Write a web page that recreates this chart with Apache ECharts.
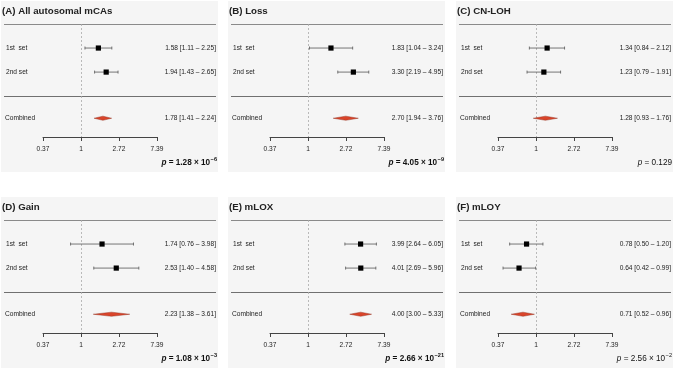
<!DOCTYPE html>
<html><head><meta charset="utf-8">
<script src="https://cdn.jsdelivr.net/npm/echarts@6/dist/echarts.min.js"></script>
<style>html,body{margin:0;padding:0;background:#fff}#c{width:675px;height:369px}</style>
</head><body><div id="c"></div>
<script>
// ---- data ----
const panelTitles = ['(A) All autosomal mCAs', '(B) Loss', '(C) CN-LOH', '(D) Gain', '(E) mLOX', '(F) mLOY'];
const rowLabels = ['1st  set', '2nd set', 'Combined'];
const estimates = [[1.58, 1.94, 1.78], [1.83, 3.30, 2.70], [1.34, 1.23, 1.28], [1.74, 2.53, 2.23], [3.99, 4.01, 4.00], [0.78, 0.64, 0.71]];
const lowers    = [[1.11, 1.43, 1.41], [1.04, 2.19, 1.94], [0.84, 0.79, 0.93], [0.76, 1.40, 1.38], [2.64, 2.69, 3.00], [0.50, 0.42, 0.52]];
const uppers    = [[2.25, 2.65, 2.24], [3.24, 4.95, 3.76], [2.12, 1.91, 1.76], [3.98, 4.58, 3.61], [6.05, 5.96, 5.33], [1.20, 0.99, 0.96]];
const pMantissa = ['1.28', '4.05', '0.129', '1.08', '2.66', '2.56'];
const pExponent = ['−6', '−9', null, '−3', '−21', '−2'];
const pSignificant = [true, true, false, true, true, false];
const tickLabels = ['0.37', '1', '2.72', '7.39'];

// ---- layout ----
const FONT = '"Liberation Sans", Arial, sans-serif';
const panelLeft = [1, 228, 456];
const panelTop = [1, 197];
const panelW = 217, panelH = 171;
const rowPos = [1, 2, 3.92];
const yMax = 4.7;

const chart = echarts.init(document.getElementById('c'), null, {renderer: 'canvas'});
const grids = [], xAxes = [], yAxes = [], series = [], titles = [], graphics = [];

for (let i = 0; i < 6; i++) {
  const col = i % 3, row = Math.floor(i / 3);
  const L = panelLeft[col], T = panelTop[row];
  const gTop = T + 23, gH = 113;
  grids.push({left: L + 42, top: gTop, width: 114, height: gH, containLabel: false});
  xAxes.push({
    type: 'log', logBase: Math.E, gridIndex: i, position: 'bottom',
    min: Math.exp(-1), max: Math.exp(2), interval: 1,
    axisLine: {show: true, onZero: false, lineStyle: {color: '#444', width: 1}},
    axisTick: {show: true, inside: false, length: 4, lineStyle: {color: '#444', width: 1}},
    splitLine: {show: false}, minorTick: {show: false},
    axisLabel: {
      show: true, margin: 9, fontSize: 6.6, fontFamily: FONT, color: '#222',
      formatter: v => tickLabels[Math.round(Math.log(v)) + 1] || ''
    }
  });
  yAxes.push({type: 'value', gridIndex: i, min: 0, max: yMax, inverse: true, show: false});

  // background
  graphics.push({type: 'rect', z: -10, shape: {x: L, y: T, width: panelW, height: panelH}, style: {fill: '#f5f5f5'}, silent: true});
  // title line and separator
  graphics.push({type: 'line', z: 1, shape: {x1: L + 3, y1: gTop + 0.5, x2: L + 215, y2: gTop + 0.5}, style: {stroke: '#8a8a8a', lineWidth: 1}, silent: true});
  const sepY = gTop + 3 * gH / yMax;
  graphics.push({type: 'line', z: 1, shape: {x1: L + 3, y1: Math.round(sepY) + 0.5, x2: L + 215, y2: Math.round(sepY) + 0.5}, style: {stroke: '#707070', lineWidth: 1}, silent: true});

  // p value
  const sig = pSignificant[i];
  const w = sig ? 'bold' : 'normal';
  let txt = '{pi|p}{n| = ' + pMantissa[i] + (pExponent[i] ? ' × 10}{sup|' + pExponent[i] + '}' : '}');
  graphics.push({
    type: 'text', z: 5, silent: true,
    style: {
      x: L + 216, y: T + 162, align: 'right', verticalAlign: 'middle',
      text: txt,
      rich: {
        pi: {fontSize: 8.2, fontStyle: 'italic', fontWeight: w, fontFamily: FONT, fill: '#111', lineHeight: 10},
        n: {fontSize: 8.2, fontWeight: w, fontFamily: FONT, fill: '#111', lineHeight: 10},
        sup: {fontSize: 5.6, fontWeight: w, fontFamily: FONT, fill: '#111', lineHeight: 10, padding: [0, 0, 7, 0.5]}
      }
    }
  });

  titles.push({
    text: panelTitles[i], left: L + 1, top: T + 5, padding: 0,
    textStyle: {fontSize: 9.7, fontWeight: 'bold', fontFamily: FONT, color: '#222'}
  });

  const data = [0, 1, 2].map(j => [estimates[i][j], lowers[i][j], uppers[i][j], rowPos[j], j]);
  series.push({
    type: 'custom', coordinateSystem: 'cartesian2d', xAxisIndex: i, yAxisIndex: i,
    clip: false, silent: true,
    encode: {x: [0, 1, 2], y: 3},
    data: data,
    renderItem: (params, api) => {
      const est = api.value(0), lo = api.value(1), hi = api.value(2), yv = api.value(3), j = api.value(4);
      const pE = api.coord([est, yv]), pL = api.coord([lo, yv]), pH = api.coord([hi, yv]);
      const y = pE[1];
      const ch = [];
      ch.push({type: 'text', style: {text: rowLabels[j], x: L + (j === 2 ? 4 : 5), y: y, align: 'left', verticalAlign: 'middle', fontSize: 6.6, fontFamily: FONT, fill: '#222'}});
      ch.push({type: 'text', style: {text: est.toFixed(2) + ' [' + lo.toFixed(2) + ' – ' + hi.toFixed(2) + ']', x: L + 215, y: y, align: 'right', verticalAlign: 'middle', fontSize: 6.6, fontFamily: FONT, fill: '#222'}});
      if (j < 2) {
        ch.push({type: 'line', shape: {x1: pL[0], y1: y, x2: pH[0], y2: y}, style: {stroke: '#555', lineWidth: 0.8}});
        ch.push({type: 'line', shape: {x1: pL[0], y1: y - 1.5, x2: pL[0], y2: y + 1.5}, style: {stroke: '#555', lineWidth: 0.8}});
        ch.push({type: 'line', shape: {x1: pH[0], y1: y - 1.5, x2: pH[0], y2: y + 1.5}, style: {stroke: '#555', lineWidth: 0.8}});
        ch.push({type: 'rect', shape: {x: pE[0] - 2.6, y: y - 2.6, width: 5.2, height: 5.2}, style: {fill: '#000'}});
      } else {
        ch.push({type: 'polygon', shape: {points: [[pL[0], y], [pE[0], y - 2.1], [pH[0], y], [pE[0], y + 2.1]]}, style: {fill: '#d9442a', stroke: '#8a2412', lineWidth: 0.4}});
      }
      return {type: 'group', children: ch};
    },
    markLine: {
      silent: true, symbol: 'none', animation: false, z: 1,
      label: {show: false},
      lineStyle: {color: '#aaaaaa', type: [2, 2], width: 0.8},
      data: [{xAxis: 1}]
    }
  });
}

chart.setOption({
  animation: false,
  backgroundColor: '#ffffff',
  title: titles,
  grid: grids,
  xAxis: xAxes,
  yAxis: yAxes,
  series: series,
  graphic: graphics
});
</script>
</body></html>
